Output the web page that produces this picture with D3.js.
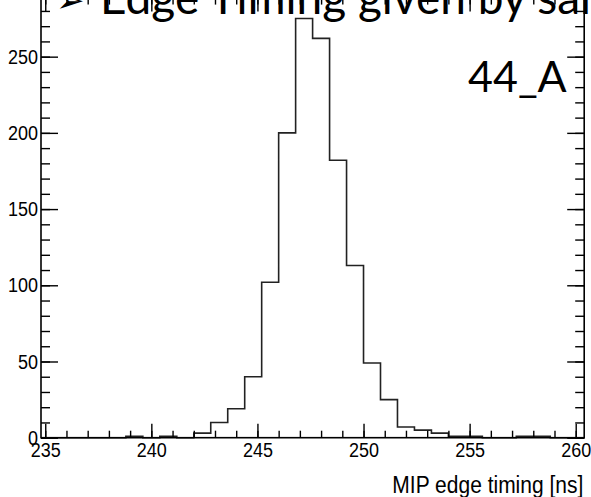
<!DOCTYPE html>
<html>
<head>
<meta charset="utf-8">
<script src="https://cdn.jsdelivr.net/npm/d3@7"></script>
<style>
  body { margin: 0; background: #fff; overflow: hidden; }
</style>
</head>
<body>
<div id="chart-area"></div>
<script>
// bin edges [ns], 32 bins of 0.8 ns
const binEdges = [234.8, 235.6, 236.4, 237.2, 238.0, 238.8, 239.6, 240.4, 241.2, 242.0,
  242.8, 243.6, 244.4, 245.2, 246.0, 246.8, 247.6, 248.4, 249.2, 250.0,
  250.8, 251.6, 252.4, 253.2, 254.0, 254.8, 255.6, 256.4, 257.2, 258.0,
  258.8, 259.6, 260.4]
const counts = [0, 0, 0, 0, 0, 1, 0, 1, 0, 3,
  10, 19, 40, 102, 200, 275, 262, 182, 113, 49,
  25, 7, 5, 3, 1, 1, 0, 0, 1, 1,
  0, 0]
const xTickLabels = [235, 240, 245, 250, 255, 260]
const yTickLabels = [0, 50, 100, 150, 200, 250]
const xTitle = "MIP edge timing [ns]"
const slideTitle = "Edge Timing given by sai"
const histName = "44_A"

const W = 591
const H = 497
const FRAME = { LEFT: 41, RIGHT: 584.2, TOP: -2.4, BOTTOM: 437.7 }
const STRETCH = 1.15   // ROOT picture is a bit taller than wide

const svg = d3.select("#chart-area").append("svg")
  .attr("width", W)
  .attr("height", H)

const x = d3.scaleLinear()
  .domain([binEdges[0], binEdges[binEdges.length - 1]])
  .range([FRAME.LEFT, FRAME.RIGHT])
const y = d3.scaleLinear()
  .domain([0, 288.75])
  .range([FRAME.BOTTOM, FRAME.TOP])

// slide text that sits over the plot
svg.append("text")
  .attr("x", 56)
  .attr("y", 12)
  .attr("font-family", "DejaVu Sans")
  .attr("font-size", "34px")
  .attr("fill", "#000")
  .text("➢")
svg.append("text")
  .attr("x", 100)
  .attr("y", 14)
  .attr("font-family", "Lato")
  .attr("font-size", "46px")
  .attr("fill", "#000")
  .text(slideTitle)
svg.append("text")
  .attr("x", 468)
  .attr("y", 91.7)
  .attr("font-family", "Lato")
  .attr("font-size", "43px")
  .attr("fill", "#000")
  .text(histName)

// histogram outline
const pts = [[binEdges[0], 0]]
counts.forEach((c, i) => {
  pts.push([binEdges[i], c])
  pts.push([binEdges[i + 1], c])
})
pts.push([binEdges[binEdges.length - 1], 0])

svg.append("path")
  .datum(pts)
  .attr("fill", "none")
  .attr("stroke", "#222")
  .attr("stroke-width", 1.6)
  .attr("d", d3.line().x(d => x(d[0])).y(d => y(d[1])))

// axes
function styleAxis(sel) {
  sel.select(".domain").remove()
  sel.selectAll("line").attr("stroke", "#000").attr("stroke-width", 1.4)
  sel.selectAll("text")
    .attr("font-family", "Liberation Sans, Arial, sans-serif")
    .attr("font-size", "18px")
    .attr("fill", "#000")
}

const xMinor = d3.range(235, 260.5, 1)
const yMinor = d3.range(0, 290, 10)

const gBottom = svg.append("g").attr("transform", `translate(0, ${FRAME.BOTTOM})`)
gBottom.append("g").call(d3.axisBottom(x).tickValues(xMinor).tickSize(-7).tickFormat("")).call(styleAxis)
const xAxis = gBottom.append("g")
  .call(d3.axisBottom(x).tickValues(xTickLabels).tickSize(-14).tickFormat(d3.format("d")))
  .call(styleAxis)
xAxis.selectAll("text")
  .attr("y", 16.5)
  .attr("dy", null)
  .attr("transform", `scale(1, ${STRETCH})`)

const gTop = svg.append("g").attr("transform", `translate(0, ${FRAME.TOP})`)
gTop.append("g").call(d3.axisTop(x).tickValues(xMinor).tickSize(-7).tickFormat("")).call(styleAxis)
gTop.append("g").call(d3.axisTop(x).tickValues(xTickLabels).tickSize(-14).tickFormat("")).call(styleAxis)

const gLeft = svg.append("g").attr("transform", `translate(${FRAME.LEFT}, 0)`)
gLeft.append("g").call(d3.axisLeft(y).tickValues(yMinor).tickSize(-9).tickFormat("")).call(styleAxis)
const yAxis = gLeft.append("g")
  .call(d3.axisLeft(y).tickValues(yTickLabels).tickSize(-17).tickPadding(3).tickFormat(d3.format("d")))
  .call(styleAxis)
yAxis.selectAll("text")
  .attr("dy", "0.32em")
  .attr("transform", `scale(1, ${STRETCH})`)

const gRight = svg.append("g").attr("transform", `translate(${FRAME.RIGHT}, 0)`)
gRight.append("g").call(d3.axisRight(y).tickValues(yMinor).tickSize(-9).tickFormat("")).call(styleAxis)
gRight.append("g").call(d3.axisRight(y).tickValues(yTickLabels).tickSize(-17).tickFormat("")).call(styleAxis)

// frame
svg.append("rect")
  .attr("x", FRAME.LEFT)
  .attr("y", FRAME.TOP)
  .attr("width", FRAME.RIGHT - FRAME.LEFT)
  .attr("height", FRAME.BOTTOM - FRAME.TOP)
  .attr("fill", "none")
  .attr("stroke", "#000")
  .attr("stroke-width", 1.6)

// axis title
svg.append("text")
  .attr("text-anchor", "end")
  .attr("transform", `translate(583.3, 493.3) scale(1, 1.1)`)
  .attr("font-family", "Liberation Sans, Arial, sans-serif")
  .attr("font-size", "21px")
  .attr("fill", "#000")
  .text(xTitle)
</script>
</body>
</html>
